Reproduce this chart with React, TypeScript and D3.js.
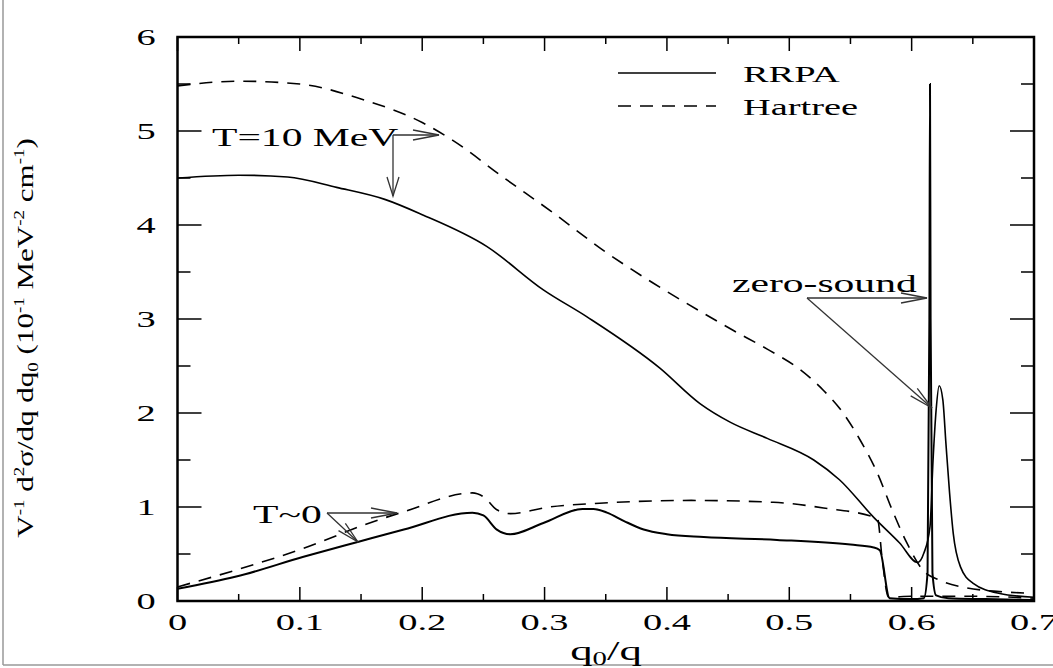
import React from "react";
import * as d3 from "d3";

// T = 10 MeV
const t10X = [0, 0.05, 0.09, 0.13, 0.17, 0.2, 0.253, 0.299, 0.335, 0.394, 0.427, 0.452, 0.482, 0.52, 0.541, 0.569, 0.59, 0.605, 0.61, 0.615, 0.6175, 0.62, 0.6225, 0.6255, 0.628, 0.631, 0.634, 0.64, 0.65, 0.672, 0.7];
const t10Rrpa = [4.5, 4.53, 4.51, 4.4, 4.27, 4.11, 3.77, 3.31, 3.02, 2.48, 2.1, 1.9, 1.73, 1.5, 1.29, 0.89, 0.62, 0.41, 0.51, 0.79, 1.5, 2.03, 2.29, 2.14, 1.68, 1.15, 0.72, 0.36, 0.19, 0.08, 0.04];
const t10HX = [0, 0.05, 0.1, 0.15, 0.2, 0.225, 0.266, 0.307, 0.348, 0.389, 0.43, 0.454, 0.482, 0.509, 0.528, 0.544, 0.558, 0.572, 0.585, 0.596, 0.609, 0.623, 0.645, 0.672, 0.7];
const t10Hartree = [5.48, 5.53, 5.5, 5.34, 5.09, 4.9, 4.51, 4.13, 3.73, 3.38, 3.06, 2.88, 2.68, 2.46, 2.24, 2.0, 1.71, 1.36, 0.94, 0.62, 0.33, 0.22, 0.14, 0.1, 0.08];

// T ~ 0
const t0X = [0, 0.048, 0.103, 0.148, 0.185, 0.241, 0.25, 0.261, 0.272, 0.299, 0.331, 0.34, 0.351, 0.365, 0.381, 0.4, 0.43, 0.49, 0.55, 0.569, 0.574, 0.582, 0.6, 0.61, 0.613, 0.6145, 0.615, 0.6155, 0.617, 0.62, 0.63, 0.66, 0.7];
const t0Rrpa = [0.13, 0.26, 0.47, 0.63, 0.76, 0.94, 0.91, 0.76, 0.71, 0.83, 0.98, 0.98, 0.94, 0.85, 0.76, 0.71, 0.68, 0.65, 0.6, 0.57, 0.54, 0.03, 0.02, 0.03, 0.3, 3.0, 5.5, 3.0, 0.3, 0.06, 0.03, 0.02, 0.01];
const t0HX = [0, 0.048, 0.103, 0.157, 0.185, 0.241, 0.251, 0.261, 0.272, 0.304, 0.345, 0.42, 0.487, 0.528, 0.572, 0.576, 0.581, 0.6, 0.65, 0.7];
const t0Hartree = [0.15, 0.33, 0.56, 0.83, 0.95, 1.15, 1.1, 0.97, 0.93, 1.0, 1.04, 1.07, 1.05, 0.99, 0.88, 0.44, 0.04, 0.05, 0.05, 0.03];

const xTicks = [0, 0.1, 0.2, 0.3, 0.4, 0.5, 0.6, 0.7];
const xMinor = [0.05, 0.15, 0.25, 0.35, 0.45, 0.55, 0.65];
const yTicks = [0, 1, 2, 3, 4, 5, 6];
const yMinor = [0.5, 1.5, 2.5, 3.5, 4.5, 5.5];

const left = 177.5, right = 1034, top = 37, bottom = 601;
const serif = "'Liberation Serif', 'Times New Roman', serif";
const SX = 1.6;

const x = d3.scaleLinear().domain([0, 0.7]).range([left, right]);
const y = d3.scaleLinear().domain([0, 6]).range([bottom, top]);

const line = d3
  .line<[number, number]>()
  .x(d => x(d[0]))
  .y(d => y(d[1]))
  .curve(d3.curveMonotoneX);

const pts = (xs: number[], ys: number[]) => xs.map((v, i) => [v, ys[i]] as [number, number]);

function Arrow({ x1, y1, x2, y2, len = 24, half = 5 }: any) {
  const a = Math.atan2(y2 - y1, x2 - x1);
  const bx = x2 - len * Math.cos(a), by = y2 - len * Math.sin(a);
  const px = -Math.sin(a) * half, py = Math.cos(a) * half;
  return (
    <g stroke="#333" strokeWidth={1.3} fill="none">
      <line x1={x1} y1={y1} x2={x2} y2={y2} />
      <polyline points={`${bx + px},${by + py} ${x2},${y2} ${bx - px},${by - py}`} />
    </g>
  );
}

function Label({ x: tx, y: ty, size = 26, anchor = "start", children }: any) {
  return (
    <text
      transform={`translate(${tx},${ty}) scale(${SX},1)`}
      fontFamily={serif}
      fontSize={size}
      textAnchor={anchor}
      fill="#000"
    >
      {children}
    </text>
  );
}

export default function App() {
  return (
    <svg
      width={1053}
      height={668}
      style={{ position: "absolute", left: 0, top: 0, background: "#fff" }}
    >
      <rect width={1053} height={668} fill="#fff" />
      {/* page border */}
      <line x1={3} y1={0} x2={3} y2={665} stroke="#999" strokeWidth={1.5} />
      <line x1={3} y1={665} x2={1053} y2={665} stroke="#999" strokeWidth={1.5} />

      {/* curves */}
      <g fill="none" stroke="#000" strokeWidth={1.6}>
        <path d={line(pts(t10X, t10Rrpa)) || ""} />
        <path d={line(pts(t0X, t0Rrpa)) || ""} strokeWidth={2} />
        <path d={line(pts(t10HX, t10Hartree)) || ""} strokeDasharray="13,9" />
        <path d={line(pts(t0HX, t0Hartree)) || ""} strokeDasharray="13,9" />
      </g>

      {/* frame and ticks */}
      <rect x={left} y={top} width={right - left} height={bottom - top} fill="none" stroke="#000" strokeWidth={2.5} />
      <g stroke="#000" strokeWidth={1.5}>
        {xTicks.map(t => (
          <g key={"xt" + t}>
            <line x1={x(t)} x2={x(t)} y1={bottom} y2={bottom - 14} />
            <line x1={x(t)} x2={x(t)} y1={top} y2={top + 14} />
          </g>
        ))}
        {xMinor.map(t => (
          <g key={"xm" + t}>
            <line x1={x(t)} x2={x(t)} y1={bottom} y2={bottom - 7} />
            <line x1={x(t)} x2={x(t)} y1={top} y2={top + 7} />
          </g>
        ))}
        {yTicks.map(t => (
          <g key={"yt" + t}>
            <line x1={left} x2={left + 24} y1={y(t)} y2={y(t)} />
            <line x1={right} x2={right - 24} y1={y(t)} y2={y(t)} />
          </g>
        ))}
        {yMinor.map(t => (
          <g key={"ym" + t}>
            <line x1={left} x2={left + 13} y1={y(t)} y2={y(t)} />
            <line x1={right} x2={right - 13} y1={y(t)} y2={y(t)} />
          </g>
        ))}
      </g>

      {/* tick labels */}
      {xTicks.map(t => (
        <Label key={"xl" + t} x={x(t)} y={630} size={24} anchor="middle">
          {t === 0 ? "0" : d3.format(".1f")(t)}
        </Label>
      ))}
      {yTicks.map(t => (
        <Label key={"yl" + t} x={146} y={y(t) + 8} size={24} anchor="middle">
          {String(t)}
        </Label>
      ))}

      {/* axis titles */}
      <Label x={606} y={660} size={28} anchor="middle">
        q<tspan fontSize={18} dy={5}>0</tspan>
        <tspan dy={-5}>/q</tspan>
      </Label>
      <text
        transform={`translate(33,338) rotate(-90) scale(1.35,1)`}
        fontFamily={serif}
        fontSize={23}
        textAnchor="middle"
      >
        V<tspan fontSize={14} dy={-9}>-1</tspan>
        <tspan dy={9}> d</tspan>
        <tspan fontSize={14} dy={-9}>2</tspan>
        <tspan dy={9}>σ/dq dq</tspan>
        <tspan fontSize={14} dy={5}>0</tspan>
        <tspan dy={-5}> (10</tspan>
        <tspan fontSize={14} dy={-9}>-1</tspan>
        <tspan dy={9}> MeV</tspan>
        <tspan fontSize={14} dy={-9}>-2</tspan>
        <tspan dy={9}> cm</tspan>
        <tspan fontSize={14} dy={-9}>-1</tspan>
        <tspan dy={9}>)</tspan>
      </text>

      {/* legend */}
      <line x1={618} x2={716} y1={73} y2={73} stroke="#000" strokeWidth={1.6} />
      <line x1={618} x2={716} y1={106} y2={106} stroke="#000" strokeWidth={1.6} strokeDasharray="13,9" />
      <Label x={743} y={82} size={24}>RRPA</Label>
      <Label x={743} y={115} size={24}>Hartree</Label>

      {/* annotations */}
      <Label x={212} y={146} size={26}>T=10 MeV</Label>
      <Arrow x1={393} y1={135} x2={439} y2={135} len={26} half={5} />
      <Arrow x1={393} y1={135} x2={393} y2={196} len={19} half={6} />

      <Label x={253} y={523} size={26}>T~0</Label>
      <Arrow x1={327} y1={513} x2={397} y2={513} len={26} half={5} />
      <Arrow x1={327} y1={513} x2={358} y2={542} len={22} half={5} />

      <Label x={732} y={292} size={26}>zero-sound</Label>
      <Arrow x1={807} y1={298} x2={927} y2={298} len={26} half={5} />
      <Arrow x1={807} y1={298} x2={932} y2={408} len={24} half={5} />
    </svg>
  );
}
